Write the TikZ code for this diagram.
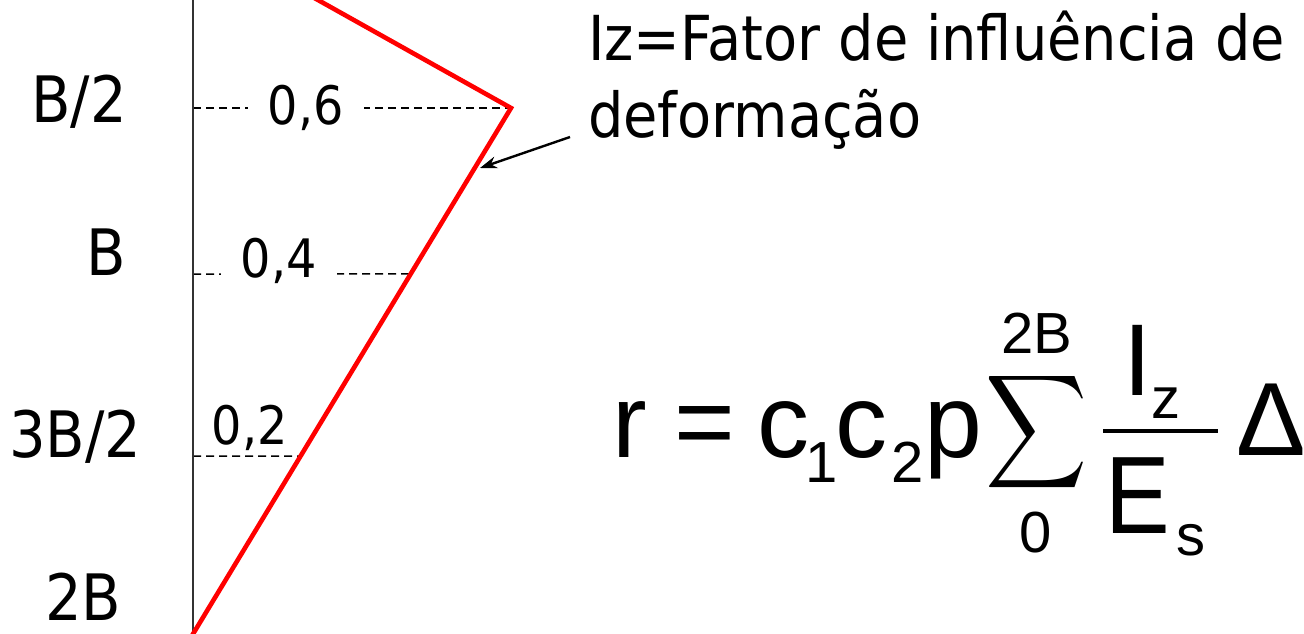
\documentclass[tikz,border=0pt]{standalone}
\usepackage{fontspec}
\setmainfont{DejaVu Sans}[FakeStretch=0.9]
\newfontfamily\arialf{Liberation Sans}
\usepackage{graphicx}
\usetikzlibrary{arrows.meta,calc}
\tikzset{
  lbl/.style={inner sep=0pt, anchor=base west, font=\fontsize{64}{77}\selectfont},
  val/.style={inner ysep=0pt, inner xsep=20pt, anchor=base west, fill=white, font=\fontsize{53}{64}\selectfont},
  valplain/.style={inner sep=0pt, anchor=base west, font=\fontsize{53}{64}\selectfont},
  ttl/.style={inner sep=0pt, anchor=base west, font=\fontsize{62}{75}\selectfont},
  eq/.style={inner sep=0pt, anchor=base, font=\arialf\fontsize{104}{120}\selectfont},
  eqb/.style={inner sep=0pt, anchor=base, font=\arialf\fontsize{102}{120}\selectfont},
  eqs/.style={inner sep=0pt, anchor=base, font=\arialf\fontsize{58}{70}\selectfont},
  guide/.style={line width=1.5pt, dash pattern=on 8pt off 5pt},
  axisline/.style={line width=1.5pt, draw=black!80},
  curve/.style={draw=red, line width=4.6pt},
  pointer/.style={line width=2.4pt, -{Stealth[length=17pt,width=12pt]}},
}
\begin{document}
\begin{tikzpicture}[x=1pt,y=-1pt]
\useasboundingbox (0,0) rectangle (1304,634);
\fill[white] (0,0) rectangle (1304,634);

% key points
\coordinate (P) at (511,108);
\coordinate (B) at (193,634);
\coordinate (T) at (318,0);
\coordinate (a6) at (193,108);
\coordinate (a4) at (193,274);
\coordinate (a2) at (193,456);
\coordinate (r4) at ($(P)!{166/526}!(B)$);
\coordinate (r2) at ($(P)!{348/526}!(B)$);
\coordinate (axtop) at (193,0);
\coordinate (axbot) at (193,634);

% guides
\draw[guide] (a6) -- (P);
\draw[guide] (a4) -- (r4);
\draw[guide] (a2) -- (r2);

% value labels
\node[val] (v6) at (247.5,124) {0,6};
\node[val] (v4) at (220.5,277) {0,4};
\node[valplain] (v2) at (211.5,444) {0,2};

% axis
\draw[axisline] (axtop) -- (axbot);

% depth labels
\node[lbl] (lb2) at (31,122) {B/2};
\node[lbl] (lb) at (86,275) {B};
\node[lbl] (l3b2) at (9,457) {3B/2};
\node[lbl] (l2b) at (45,620) {2B};

% red curve
\begin{scope}
\clip (0,0) rectangle (1304,634);
\draw[curve, line join=miter] ($(P)!1.1!(T)$) -- (P) -- ($(P)!1.05!(B)$);
\end{scope}

% title
\node[ttl] (t1) at (588,60) {Iz=Fator de influência de};
\node[ttl] (t2) at (588,137) {deformação};

% arrow
\coordinate (S) at (570,137);
\coordinate (E) at (480,168);
\draw[pointer] (S) -- (E);

% formula
\node[eq] (fr) at (630,457) {r};
\node[eq] (feq) at (705,457) {=};
\node[eq] (fc1) at (783,457) {c};
\node[eqs] (s1) at (822,482) {1};
\node[eq] (fc2) at (861,457) {c};
\node[eqs] (s2) at (908,482) {2};
\node[eq] (fp) at (953,457) {p};
\node[inner sep=0pt, anchor=north west] (sig) at (985,368) {\resizebox*{102pt}{127pt}{$\displaystyle\sum$}};
\node[eqs] (up) at (1037,353) {2B};
\node[eqs] (lo) at (1036,552) {0};
\node[eqb] (fI) at (1138,395) {I};
\node[eqs] (fz) at (1166,418) {z};
\coordinate (b1) at (1103,431);
\coordinate (b2) at (1218,431);
\draw[line width=4pt] (b1) -- (b2);
\node[eqb] (fE) at (1138,533) {\scalebox{0.95}[1.08]{E}};
\node[eqs] (fs) at (1191,555) {s};
\node[inner sep=0pt, anchor=base west, font=\arialf\fontsize{104}{120}\selectfont] (fD) at (1236,455) {Δ};
\end{tikzpicture}
\end{document}
